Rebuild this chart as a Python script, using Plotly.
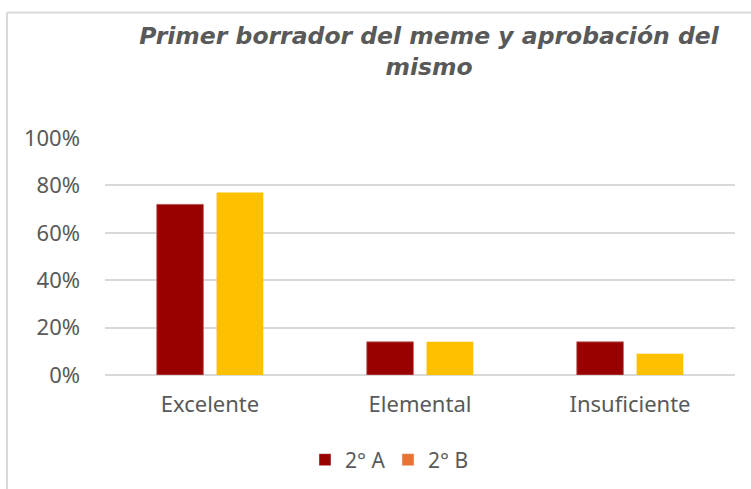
import plotly.graph_objects as go

categories = ["Excelente", "Elemental", "Insuficiente"]
serie_a = [0.72, 0.14, 0.14]
serie_b = [0.77, 0.14, 0.09]
series_names = ["2° A", "2° B"]
tick_vals = [0, 0.2, 0.4, 0.6, 0.8, 1.0]
tick_text = ["0%", "20%", "40%", "60%", "80%", "100%"]

col_a = "#990000"
col_b = "#FFC000"
col_b_legend = "#E97132"
gray = "#595959"
font_family = "Noto Sans, Open Sans, sans-serif"

fig = go.Figure()
fig.add_trace(go.Bar(x=categories, y=serie_a, name=series_names[0], marker_color=col_a,
                     marker_line=dict(color="#c46a6a", width=0.8), showlegend=False,
                     offsetgroup="a"))
fig.add_trace(go.Bar(x=categories, y=serie_b, name=series_names[1], marker_color=col_b,
                     marker_line_width=0, showlegend=False, offsetgroup="b"))
# legend entries (the original legend shows 2° B in orange)
fig.add_trace(go.Bar(x=[categories[0]], y=[None], name=series_names[0], marker_color=col_a,
                     showlegend=True, offsetgroup="a"))
fig.add_trace(go.Bar(x=[categories[0]], y=[None], name=series_names[1], marker_color=col_b_legend,
                     showlegend=True, offsetgroup="b"))

L, R, T, B = 105, 16, 138, 114
W, H = 751, 489
pw, ph = W - L - R, H - T - B

def px_x(x):
    return (x - L) / pw

def px_y(y):
    return (H - B - y) / ph

fig.update_layout(
    width=W, height=H,
    margin=dict(l=L, r=R, t=T, b=B, autoexpand=False),
    paper_bgcolor="white", plot_bgcolor="white",
    barmode="group", bargap=0.43, bargroupgap=0.22,
    font=dict(family=font_family, color=gray, size=22),
    title=dict(
        text="<i><b>Primer borrador del meme y aprobación del<br>mismo</b></i>",
        x=429 / W, xanchor="center", xref="container",
        y=1 - 44 / H, yanchor="top", yref="container",
        font=dict(size=23.5, color=gray, family="DejaVu Sans, sans-serif"),
    ),
    xaxis=dict(showline=False, showgrid=False, ticks="", tickfont=dict(size=22, color=gray),
               ticklabelstandoff=14, automargin=False),
    yaxis=dict(range=[0, 1], tickvals=tick_vals, ticktext=tick_text, showgrid=True,
               gridcolor="#d9d9d9", gridwidth=1.5, zeroline=True, zerolinecolor="#d9d9d9",
               zerolinewidth=1.5, tickfont=dict(size=22, color=gray), ticks="",
               ticklabelstandoff=24, automargin=False),
    legend=dict(orientation="h", x=px_x(388), xanchor="center", y=px_y(460), yanchor="middle",
                font=dict(size=21, color=gray), traceorder="normal",
                entrywidth=38, entrywidthmode="pixels"),
    shapes=[
        dict(type="line", xref="paper", yref="paper", x0=px_x(7), x1=px_x(760),
             y0=px_y(12.5), y1=px_y(12.5), line=dict(color="#d9d9d9", width=2)),
        dict(type="line", xref="paper", yref="paper", x0=px_x(7), x1=px_x(7),
             y0=px_y(12.5), y1=px_y(500), line=dict(color="#d9d9d9", width=2)),
    ],
)

fig.write_html("out.html", config={"displayModeBar": False},
               post_script="document.body.style.margin='0';")
